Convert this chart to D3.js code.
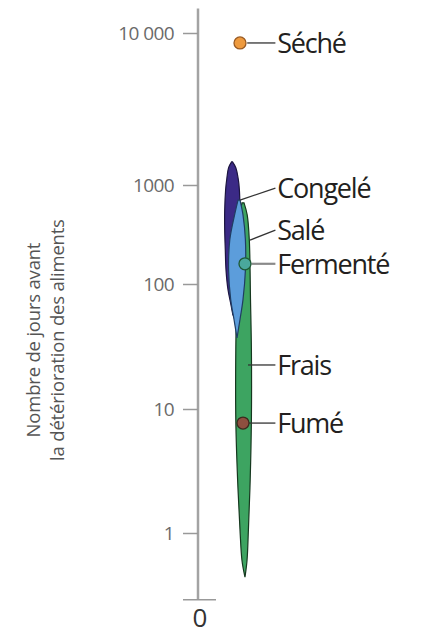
<!DOCTYPE html>
<html><head><meta charset="utf-8">
<script src="https://cdn.jsdelivr.net/npm/d3@7"></script>
<style>body{margin:0;background:#fff}svg{display:block}</style>
</head><body>
<script>
// Tick values and labels (broken log axis)
const tickValues = [1, 10, 100, 1000, 10000];
const tickLabels = ["1", "10", "100", "1000", "10 000"];
const floorValue = 0.29;   // the "0" at the foot of the axis
const floorLabel = "0";
const topValue = 14500;

// Distributions: days, left / right edge (arbitrary horizontal units)
const congeleDays = [1420, 1300, 1100, 890, 560, 350, 220, 138, 90, 68, 56];
const congeleLo   = [5.6, 5.1, 4.8, 4.6, 4.45, 4.45, 4.55, 4.67, 5.0, 5.5, 5.83];
const congeleHi   = [5.75, 6.3, 6.7, 6.9, 7.0, 7.0, 7.0, 6.83, 6.5, 6.2, 5.83];

const fraisDays = [660, 500, 280, 75, 30, 8.2, 2.7, 1.06, 0.6, 0.44];
const fraisLo   = [7.33, 7.0, 6.83, 6.45, 6.3, 6.3, 6.6, 7.0, 7.33, 7.83];
const fraisHi   = [7.67, 8.2, 8.55, 8.75, 8.9, 8.9, 8.7, 8.4, 8.17, 7.83];

const saleDays = [705, 500, 280, 138, 75, 52, 37];
const saleLo   = [6.67, 6.1, 5.3, 5.1, 5.45, 6.0, 6.5];
const saleHi   = [7.0, 7.5, 7.9, 7.9, 7.5, 7.0, 6.5];

// Single-value methods
const pointNames = ["Séché", "Fermenté", "Fumé"];
const pointDays  = [8600, 160, 7.7];
const pointPos   = [7.0, 7.83, 7.5];

// Labels: name, anchor (days, pos), label days
const labelNames      = ["Séché", "Congelé", "Salé", "Fermenté", "Frais", "Fumé"];
const labelAnchorDays = [8600, 705, 278, 160, 22.5, 7.7];
const labelAnchorPos  = [8.2, 7.0, 8.67, 8.9, 8.33, 8.5];
const labelDays       = [8600, 930, 350, 160, 22.5, 7.7];
const labelPos = 13.2;

const W = 423, H = 635;
const svg = d3.select("body").append("svg").attr("width", W).attr("height", H);

const y = d3.scaleLog()
  .domain([1, 10, 100, 1000, 10000])
  .range([533, 409, 284, 185, 33]);
const x = d3.scaleLinear().domain([0, 10]).range([198, 258]);

// Axis title
const title = svg.append("g").attr("transform", `translate(0,${(y(topValue) + y(floorValue)) / 2 + 36}) rotate(-90)`);
title.append("text").attr("x", 0).attr("y", 40).attr("text-anchor", "middle")
  .attr("font-family", "Open Sans").attr("font-size", 18.5).attr("fill", "#555")
  .attr("letter-spacing", "-0.2").text("Nombre de jours avant");
title.append("text").attr("x", 0).attr("y", 64).attr("text-anchor", "middle")
  .attr("font-family", "Open Sans").attr("font-size", 18.5).attr("fill", "#555")
  .attr("letter-spacing", "-0.2").text("la détérioration des aliments");

// Axis
const axis = svg.append("g").attr("transform", `translate(${x(0)},0)`);
axis.append("line").attr("y1", y(topValue)).attr("y2", y(floorValue))
  .attr("stroke", "#a3a3a3").attr("stroke-width", 2.5);
const yAxis = d3.axisLeft(y).tickValues(tickValues)
  .tickFormat((d, i) => tickLabels[i]).tickSize(15).tickPadding(9);
const ag = svg.append("g").attr("transform", `translate(${x(0)},0)`).call(yAxis);
ag.select(".domain").remove();
ag.selectAll(".tick line").attr("stroke", "#999").attr("stroke-width", 1.5);
ag.selectAll(".tick text").attr("font-family", "Open Sans").attr("font-size", 19)
  .attr("fill", "#6a6a6a").attr("letter-spacing", "-0.6");
axis.append("line").attr("x1", -15).attr("x2", 18).attr("y1", y(floorValue)).attr("y2", y(floorValue))
  .attr("stroke", "#999").attr("stroke-width", 1.5);
axis.append("text").attr("x", 2).attr("y", y(floorValue) + 27).attr("text-anchor", "middle")
  .attr("font-family", "Open Sans").attr("font-size", 26).attr("fill", "#333").text(floorLabel);

// Distributions
function shape(days, lo, hi, fill, stroke) {
  const pts = days.map((d, i) => ({d, lo: lo[i], hi: hi[i]}));
  const area = d3.area().y(p => y(p.d)).x0(p => x(p.lo)).x1(p => x(p.hi))
    .curve(d3.curveCatmullRom.alpha(0.5));
  svg.append("path").attr("d", area(pts)).attr("fill", fill)
    .attr("stroke", stroke).attr("stroke-width", 1.2);
}
shape(congeleDays, congeleLo, congeleHi, "#3b2a86", "#1c1540");
shape(fraisDays, fraisLo, fraisHi, "#3da461", "#16381f");
shape(saleDays, saleLo, saleHi, "#5c9ddb", "#1f3d62");

// Leader lines
const strokes = ["#333", "#333", "#333", "#8a8a8a", "#333", "#333"];
const widths = [1.3, 1.3, 1.3, 2.2, 1.3, 1.3];
labelNames.forEach((n, i) => {
  svg.append("line")
    .attr("x1", x(labelAnchorPos[i])).attr("y1", y(labelAnchorDays[i]))
    .attr("x2", x(labelPos - 0.3)).attr("y2", y(labelDays[i]))
    .attr("stroke", strokes[i]).attr("stroke-width", widths[i]);
});

// Points
const pFill = ["#ee9a3e", "#4aa89c", "#8d4f3f"];
const pStroke = ["#9a5a22", "#1f5a35", "#3b2a1e"];
pointNames.forEach((n, i) => {
  svg.append("circle").attr("cx", x(pointPos[i])).attr("cy", y(pointDays[i])).attr("r", 6)
    .attr("fill", pFill[i]).attr("stroke", pStroke[i]).attr("stroke-width", 1.3);
});

// Labels
labelNames.forEach((n, i) => {
  svg.append("text").attr("x", x(labelPos)).attr("y", y(labelDays[i]) + 10)
    .attr("font-family", "Open Sans").attr("font-size", 27).attr("fill", "#231f20")
    .attr("letter-spacing", "-1.2").text(n);
});
</script>
</body></html>
